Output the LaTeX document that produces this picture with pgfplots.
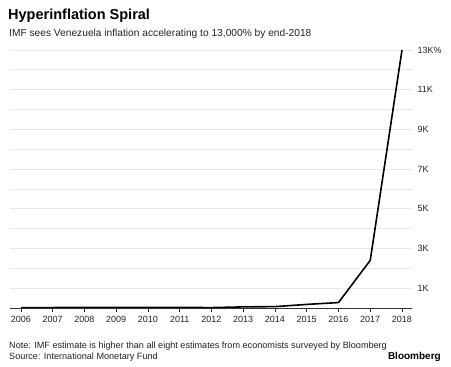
\documentclass[border=0pt]{standalone}
\usepackage{pgfplots}
\pgfplotsset{compat=1.18}
\usepackage{fontspec}
\setmainfont{Liberation Sans}
\definecolor{gridgray}{HTML}{E8E8E8}
\definecolor{txtgray}{HTML}{222222}
\begin{document}
\begin{tikzpicture}[x=1pt,y=1pt]
\path[use as bounding box] (0,0) rectangle (451,367);
\begin{axis}[
  at={(10pt,59pt)}, anchor=south west,
  scale only axis, width=402pt, height=258pt,
  xmin=2005.654, xmax=2018.315, ymin=0, ymax=13000,
  scaled y ticks=false,
  axis x line*=bottom, axis y line*=right,
  y axis line style={draw=none},
  x axis line style={draw=black!80, line width=0.8pt},
  xtick={2006,...,2018},
  xtick align=outside, xtick style={draw=black!80, line width=0.6pt},
  major tick length=4pt,
  ytick={1000,2000,...,13000},
  yticklabels={1K,,3K,,5K,,7K,,9K,,11K,,13K\%},
  ytick style={draw=none},
  ymajorgrids, grid style={gridgray, line width=0.8pt},
  yticklabel pos=right,
  yticklabel style={anchor=west, xshift=2pt, font=\fontsize{9}{10}\selectfont, text=txtgray},
  xticklabel style={font=\fontsize{9}{10}\selectfont, text=txtgray, yshift=-1pt},
  /pgf/number format/.cd, 1000 sep={}, assume math mode=true,
]
\addplot[black, line width=1.6pt, line join=round] coordinates {
(2006,17) (2007,22) (2008,31) (2009,27) (2010,28) (2011,29) (2012,20)
(2013,56) (2014,69) (2015,181) (2016,274) (2017,2400) (2018,13000)};
\end{axis}
\node[anchor=base west, inner sep=0, font=\bfseries\fontsize{14.5}{16}\selectfont] at (8,347) {Hyperinflation Spiral};
\node[anchor=base west, inner sep=0, font=\fontsize{10.2}{12}\selectfont, text=txtgray] at (9,330.5) {IMF sees Venezuela inflation accelerating to 13,000\% by end-2018};
\node[anchor=base west, inner sep=0, font=\fontsize{9.1}{10}\selectfont, text=txtgray] at (9,18) {Note: IMF estimate is higher than all eight estimates from economists surveyed by Bloomberg};
\node[anchor=base west, inner sep=0, font=\fontsize{9.1}{10}\selectfont, text=txtgray] at (9,7) {Source: International Monetary Fund};
\node[anchor=base east, inner sep=0, font=\bfseries\fontsize{10}{12}\selectfont] at (441,7) {Bloomberg};
\end{tikzpicture}
\end{document}
